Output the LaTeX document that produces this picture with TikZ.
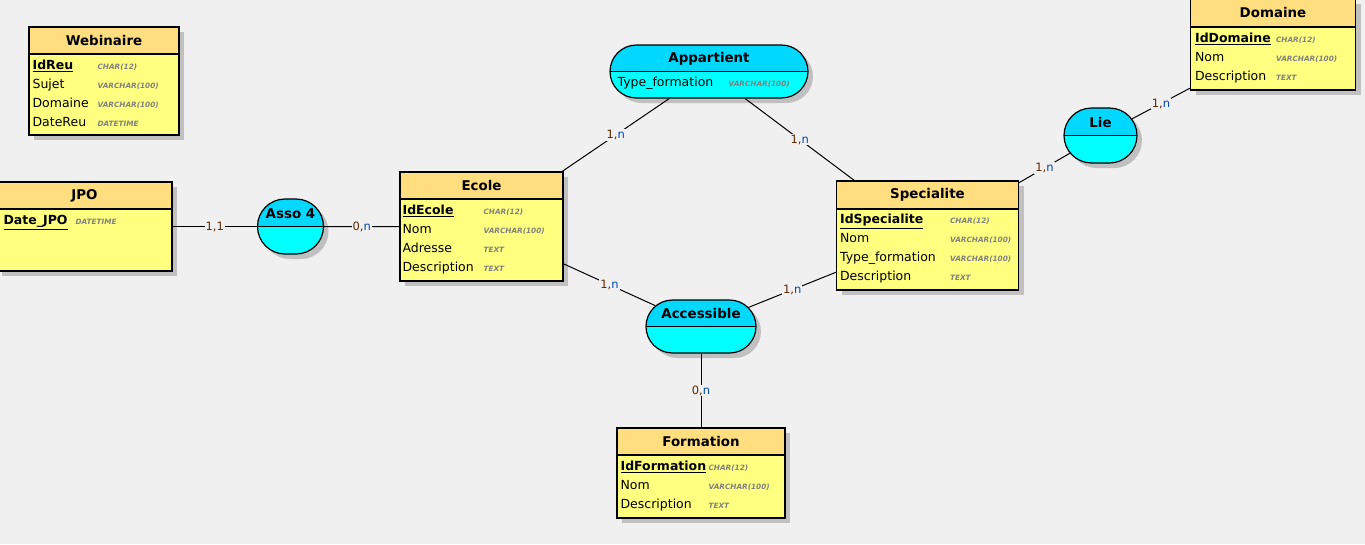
\documentclass[tikz,border=0pt]{standalone}
\usepackage{fontspec}
\setmainfont{DejaVu Sans}
\usetikzlibrary{shapes.geometric}
\usetikzlibrary{shapes.misc}
\usetikzlibrary{shadows}
\usetikzlibrary{positioning}
\definecolor{bgcol}{RGB}{240,240,240}
\definecolor{headcol}{RGB}{255,222,128}
\definecolor{bodycol}{RGB}{255,255,128}
\definecolor{assotop}{RGB}{0,216,255}
\definecolor{assobot}{RGB}{0,255,255}
\definecolor{shadowcol}{RGB}{192,192,192}
\definecolor{typecol}{RGB}{128,128,128}
\definecolor{cardnum}{RGB}{96,40,0}
\definecolor{cardlet}{RGB}{0,70,170}
\newcommand{\typ}[1]{{\fontsize{7.3}{9}\selectfont\bfseries\itshape\color{typecol}#1}}
\newcommand{\idkey}[1]{\underline{\textbf{#1}}}
\newcommand{\crd}[2]{\textcolor{cardnum}{#1,}\textcolor{cardlet}{#2}}
\tikzset{
    entbox/.style = {rectangle, line width=1.2pt, draw=black, fill=bodycol, inner sep=0pt, drop shadow={shadow xshift=5pt,shadow yshift=-5pt,fill=shadowcol,opacity=1}},
    enttitle/.style = {rectangle, line width=1.2pt, draw=black, fill=headcol, anchor=north, inner sep=0pt, minimum height=27pt, font=\fontsize{13.4}{16}\selectfont\bfseries},
    attrs/.style = {anchor=north west, inner sep=0pt, font=\fontsize{12.5}{19}\selectfont},
    assobox/.style = {rounded rectangle, line width=1.2pt, draw=black, fill=assobot, inner sep=0pt, drop shadow={shadow xshift=5pt,shadow yshift=-5pt,fill=shadowcol,opacity=1},
        path picture={\fill[assotop] (path picture bounding box.north west) rectangle (path picture bounding box.east);
                      \draw[line width=1.2pt] (path picture bounding box.west) -- (path picture bounding box.east);}},
    assotitle/.style = {inner sep=0pt, font=\fontsize{13.4}{16}\selectfont\bfseries},
    link/.style = {-, line width=1pt, black},
    card/.style = {fill=bgcol, inner sep=1pt, font=\fontsize{11.5}{12}\selectfont}
}
\begin{document}
\begin{tikzpicture}[x=1pt,y=-1pt]
\fill[bgcol] (0,0) rectangle (1365,544);
\useasboundingbox (0,0) rectangle (1365,544);
% entities
\node[entbox, minimum width=150pt, minimum height=108pt] at (104,81) (webinaire) {};
\node[enttitle, minimum width=150pt] at (webinaire.north) (webinaireh) {Webinaire};
\node[attrs] at ([xshift=4pt,yshift=-29.5pt]webinaire.north west) (webinairea) {\begin{tabular}{@{}p{65pt}@{}l@{}}
\idkey{IdReu} & \typ{CHAR(12)}\\
Sujet & \typ{VARCHAR(100)}\\
Domaine & \typ{VARCHAR(100)}\\
DateReu & \typ{DATETIME}
\end{tabular}};
%
\node[entbox, minimum width=175pt, minimum height=89pt] at (84.5,226.5) (jpo) {};
\node[enttitle, minimum width=175pt] at (jpo.north) (jpoh) {JPO};
\node[attrs] at ([xshift=7pt,yshift=-29.5pt]jpo.north west) (jpoa) {\begin{tabular}{@{}p{72pt}@{}l@{}}
\idkey{Date\_JPO} & \typ{DATETIME}
\end{tabular}};
%
\node[entbox, minimum width=163pt, minimum height=109pt] at (481.5,226.5) (ecole) {};
\node[enttitle, minimum width=163pt] at (ecole.north) (ecoleh) {Ecole};
\node[attrs] at ([xshift=3pt,yshift=-29.5pt]ecole.north west) (ecolea) {\begin{tabular}{@{}p{81pt}@{}l@{}}
\idkey{IdEcole} & \typ{CHAR(12)}\\
Nom & \typ{VARCHAR(100)}\\
Adresse & \typ{TEXT}\\
Description & \typ{TEXT}
\end{tabular}};
%
\node[entbox, minimum width=182pt, minimum height=109pt] at (927.5,235.5) (specialite) {};
\node[enttitle, minimum width=182pt, minimum height=28pt] at (specialite.north) (specialiteh) {Specialite};
\node[attrs] at ([xshift=4pt,yshift=-30pt]specialite.north west) (specialitea) {\begin{tabular}{@{}p{110pt}@{}l@{}}
\idkey{IdSpecialite} & \typ{CHAR(12)}\\
Nom & \typ{VARCHAR(100)}\\
Type\_formation & \typ{VARCHAR(100)}\\
Description & \typ{TEXT}
\end{tabular}};
%
\node[entbox, minimum width=165pt, minimum height=91pt] at (1273,44.5) (domaine) {};
\node[enttitle, minimum width=165pt, minimum height=28pt] at (domaine.north) (domaineh) {Domaine};
\node[attrs] at ([xshift=5pt,yshift=-30.5pt]domaine.north west) (domainea) {\begin{tabular}{@{}p{81pt}@{}l@{}}
\idkey{IdDomaine} & \typ{CHAR(12)}\\
Nom & \typ{VARCHAR(100)}\\
Description & \typ{TEXT}
\end{tabular}};
%
\node[entbox, minimum width=168pt, minimum height=90pt] at (701,473) (formation) {};
\node[enttitle, minimum width=168pt] at (formation.north) (formationh) {Formation};
\node[attrs] at ([xshift=4pt,yshift=-29.5pt]formation.north west) (formationa) {\begin{tabular}{@{}p{88pt}@{}l@{}}
\idkey{IdFormation} & \typ{CHAR(12)}\\
Nom & \typ{VARCHAR(100)}\\
Description & \typ{TEXT}
\end{tabular}};
% associations
\node[assobox, minimum width=198pt, minimum height=53pt] at (709,71.5) (appartient) {};
\node[assotitle] at ([yshift=13pt]appartient.center) {Appartient};
\node[attrs, anchor=west] at ([xshift=8pt,yshift=-11.5pt]appartient.west) (appartienta) {\begin{tabular}{@{}p{111pt}@{}l@{}}
Type\_formation & \typ{VARCHAR(100)}
\end{tabular}};
%
\node[assobox, minimum width=66pt, minimum height=55pt] at (290.5,226.5) (asso4) {};
\node[assotitle] at ([yshift=13pt]asso4.center) {Asso 4};
%
\node[assobox, minimum width=73pt, minimum height=55pt] at (1100.5,135.5) (lie) {};
\node[assotitle] at ([yshift=13pt]lie.center) {Lie};
%
\node[assobox, minimum width=110pt, minimum height=53pt] at (701,326.5) (accessible) {};
\node[assotitle] at ([yshift=13pt]accessible.center) {Accessible};
% links
\draw[link] (jpo) -- node[card] {\textcolor{cardnum}{1,1}} (asso4);
\draw[link] (asso4) -- node[card] {\crd{0}{n}} (ecole);
\draw[link] (appartient) -- node[card] {\crd{1}{n}} (ecole);
\draw[link] (appartient) -- node[card] {\crd{1}{n}} (specialite);
\draw[link] (accessible) -- node[card] {\crd{1}{n}} (ecole);
\draw[link] (accessible) -- node[card] {\crd{1}{n}} (specialite);
\draw[link] (accessible) -- node[card] {\crd{0}{n}} (formation);
\draw[link] (lie) -- node[card] {\crd{1}{n}} (specialite);
\draw[link] (lie) -- node[card] {\crd{1}{n}} (domaine);
\end{tikzpicture}
\end{document}
